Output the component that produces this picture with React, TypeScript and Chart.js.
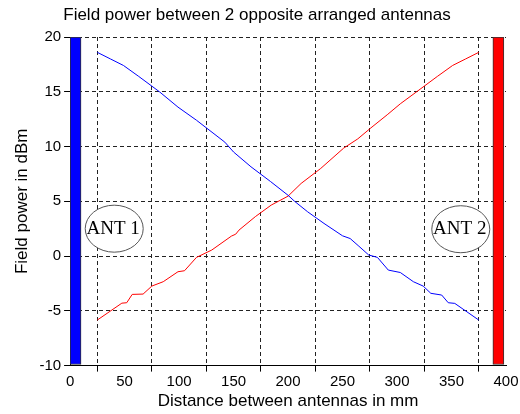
import React, { useEffect, useRef } from "react";
import { Chart, registerables } from "chart.js";

Chart.register(...registerables);

const blueX = [25, 37, 49, 63, 82, 99, 116, 142, 150, 166, 184, 200, 206, 218, 233, 250, 257, 265, 274, 282, 292, 303, 315, 324, 331, 341, 347, 353, 375];
const blueY = [18.6, 18.0, 17.4, 16.4, 15.0, 13.6, 12.4, 10.4, 9.5, 8.15, 6.8, 5.55, 5.0, 4.04, 2.98, 1.85, 1.6, 0.9, 0.1, -0.12, -1.28, -1.5, -2.34, -2.74, -3.4, -3.56, -4.26, -4.32, -5.84];

const redX = [25, 47.5, 52, 57, 67, 75, 85.5, 99, 105, 116, 130, 148, 152, 155, 170, 184.5, 200, 212, 230, 251, 264, 276, 291, 303, 318, 337, 351, 363, 375];
const redY = [-5.84, -4.3, -4.26, -3.5, -3.47, -2.74, -2.34, -1.43, -1.34, -0.12, 0.55, 1.82, 2.0, 2.37, 3.6, 4.65, 5.47, 6.63, 8.0, 9.85, 10.7, 11.7, 12.9, 13.9, 15.0, 16.4, 17.4, 18.0, 18.6];

// antenna bars: position (mm) and extent (dBm)
const antennaX = [5, 393];
const antennaRange: [number, number] = [-9.9, 20];
const antennaColors = ["#0000ff", "#ff0000"];

// antenna labels
const labelTexts = ["ANT 1", "ANT 2"];
const labelX = [40.5, 358.5];
const labelY = [2.5, 2.45];

const SANS = "'Liberation Sans', Arial, sans-serif";

const ellipsePlugin = {
  id: "antLabels",
  afterDatasetsDraw(chart: any) {
    const { ctx, scales } = chart;
    ctx.save();
    labelTexts.forEach((t, i) => {
      const cx = scales.x.getPixelForValue(labelX[i]);
      const cy = scales.y.getPixelForValue(labelY[i]);
      ctx.beginPath();
      ctx.ellipse(cx, cy, 29, 23.5, 0, 0, Math.PI * 2);
      ctx.fillStyle = "#ffffff";
      ctx.fill();
      ctx.lineWidth = 1;
      ctx.strokeStyle = "#555555";
      ctx.stroke();
      ctx.fillStyle = "#000000";
      ctx.font = "19px 'Liberation Serif', 'Times New Roman', serif";
      ctx.textAlign = "center";
      ctx.textBaseline = "middle";
      ctx.fillText(t, cx - 1, cy);
    });
    ctx.restore();
  },
};

export default function App() {
  const ref = useRef<HTMLCanvasElement>(null);
  useEffect(() => {
    if (!ref.current) return;
    const chart = new Chart(ref.current, {
      type: "line",
      data: {
        datasets: [
          {
            type: "line",
            label: "ANT 1",
            data: blueX.map((x, i) => ({ x, y: blueY[i] })),
            borderColor: "#0000ff",
            borderWidth: 1,
            pointRadius: 0,
            tension: 0,
            fill: false,
          },
          {
            type: "line",
            label: "ANT 2",
            data: redX.map((x, i) => ({ x, y: redY[i] })),
            borderColor: "#ff0000",
            borderWidth: 1,
            pointRadius: 0,
            tension: 0,
            fill: false,
          },
          {
            type: "bar",
            label: "antennas",
            data: antennaX.map((x) => ({ x, y: antennaRange })) as any,
            backgroundColor: antennaColors,
            borderColor: "#333333",
            borderWidth: 1,
            borderSkipped: false,
            barThickness: 11,
            grouped: false,
          } as any,
        ],
      },
      options: {
        responsive: false,
        animation: false,
        layout: { padding: { left: 8, right: 14, top: 0, bottom: 2 } },
        plugins: {
          legend: { display: false },
          tooltip: { enabled: false },
          title: {
            display: true,
            text: "Field power between 2 opposite arranged antennas",
            color: "#000",
            font: { family: SANS, size: 17, weight: "normal" },
            padding: { top: 5, bottom: 11.6 },
          },
        },
        scales: {
          x: {
            type: "linear",
            min: 0,
            max: 400,
            offset: false,
            ticks: { stepSize: 50, color: "#000", font: { family: SANS, size: 15 }, padding: 1, maxRotation: 0 },
            grid: { color: "#222", lineWidth: 1, tickLength: 6, tickColor: "#000", tickBorderDash: [] },
            border: { display: true, color: "#000", width: 1, dash: [4, 3] },
            title: {
              display: true,
              text: "Distance between antennas in mm",
              color: "#000",
              font: { family: SANS, size: 17 },
              padding: { top: 0, bottom: 0 },
            },
          },
          y: {
            type: "linear",
            min: -10,
            max: 20,
            ticks: { stepSize: 5, color: "#000", font: { family: SANS, size: 15 }, padding: 3 },
            grid: { color: "#222", lineWidth: 1, tickLength: 6, tickColor: "#000", tickBorderDash: [] },
            border: { display: true, color: "#000", width: 1, dash: [4, 3] },
            title: {
              display: true,
              text: "Field power in dBm",
              color: "#000",
              font: { family: SANS, size: 17 },
              padding: { top: 4, bottom: 4 },
            },
          },
        },
      },
      plugins: [ellipsePlugin],
    });
    return () => chart.destroy();
  }, []);
  return (
    <div style={{ position: "fixed", left: 0, top: 0, width: 520, height: 414, background: "#fff" }}>
      <canvas ref={ref} width={520} height={414} style={{ display: "block" }} />
    </div>
  );
}
